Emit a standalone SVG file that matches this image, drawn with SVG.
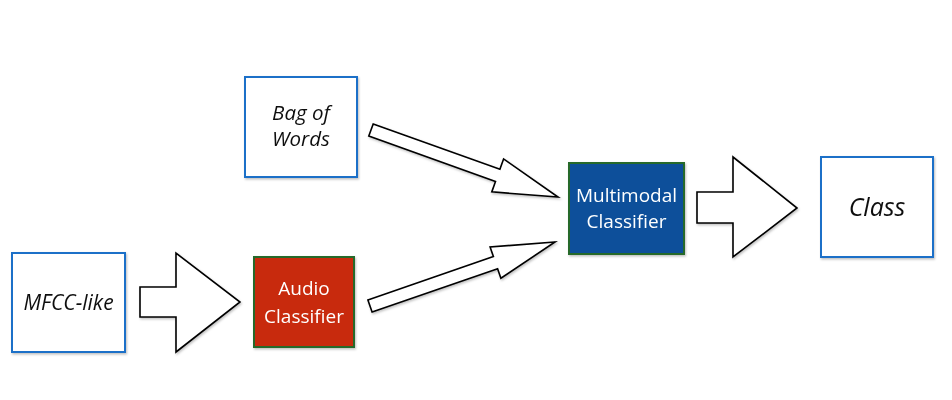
<svg xmlns="http://www.w3.org/2000/svg" width="952" height="400" viewBox="0 0 952 400">
<defs>
<filter id="sh" x="-10%" y="-10%" width="130%" height="130%">
<feDropShadow dx="1" dy="1.5" stdDeviation="1.2" flood-color="#000" flood-opacity="0.25"/>
</filter>
</defs>
<style>
.in{fill:#fff;stroke:#1f6fc8;stroke-width:2}
.red{fill:#c8290b;stroke:#25692a;stroke-width:2}
.blue{fill:#0b4f9a;stroke:#25692a;stroke-width:2}
.arr{fill:#fff;stroke:#000;stroke-width:1.6;stroke-linejoin:miter}
.t{font-family:"Open Sans","Noto Sans",sans-serif;text-anchor:middle}
.it{font-style:italic;fill:#111}
.w{fill:#fff}
</style>
<rect width="952" height="400" fill="#fff"/>
<g id="connectors" filter="url(#sh)">
<polygon class="arr" points="140,287 176,287 176,253 240,302 176,352 176,317 140,317"/>
<polygon class="arr" points="373.2,123.9 499.9,169.3 503.6,158.9 558,197 491.8,191.9 495.5,181.5 368.8,136.1"/>
<polygon class="arr" points="367.9,299.9 493.4,256.5 490.1,247 555,242 500.9,278.2 497.6,268.7 372.1,312.1"/>
<polygon class="arr" points="697,192 733,192 733,157 797,208 733,257 733,223 697,223"/>
</g>
<g id="mfcc" filter="url(#sh)">
<rect class="in" x="12" y="253" width="113" height="99"/>
<text class="t it" x="68.5" y="310" font-size="21">MFCC-like</text>
</g>
<g id="bow" filter="url(#sh)">
<rect class="in" x="245" y="77" width="112" height="100"/>
<text class="t it" x="301" y="120" font-size="20.5">Bag of</text>
<text class="t it" x="301" y="146" font-size="20.5">Words</text>
</g>
<g id="audio" filter="url(#sh)">
<rect class="red" x="254" y="257" width="100" height="90"/>
<text class="t w" x="304" y="295" font-size="19">Audio</text>
<text class="t w" x="304" y="323" font-size="19">Classifier</text>
</g>
<g id="multimodal" filter="url(#sh)">
<rect class="blue" x="569" y="163" width="115" height="91"/>
<text class="t w" x="626.5" y="202" font-size="19">Multimodal</text>
<text class="t w" x="626.5" y="228" font-size="19">Classifier</text>
</g>
<g id="class" filter="url(#sh)">
<rect class="in" x="821" y="157" width="112" height="100"/>
<text class="t it" x="877" y="216" font-size="25">Class</text>
</g>
</svg>
